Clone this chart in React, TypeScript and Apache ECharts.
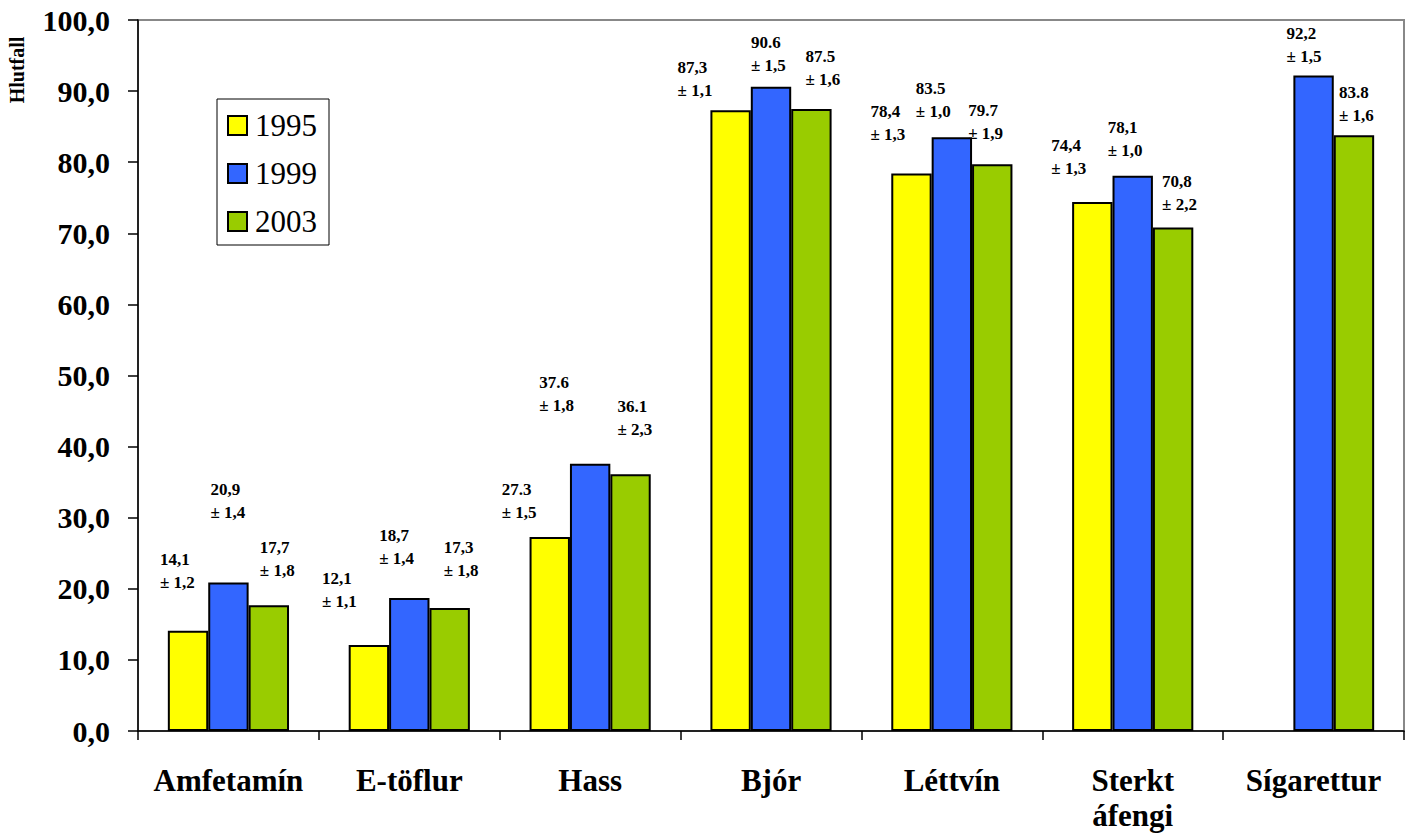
import React, { useEffect, useRef } from "react";
import * as echarts from "echarts";

const categories = ["Amfetamín", "E-töflur", "Hass", "Bjór", "Léttvín", "Sterkt\náfengi", "Sígarettur"];
const years = ["1995", "1999", "2003"];

const values1995: (number | null)[] = [14.1, 12.1, 27.3, 87.3, 78.4, 74.4, null];
const values1999: (number | null)[] = [20.9, 18.7, 37.6, 90.6, 83.5, 78.1, 92.2];
const values2003: (number | null)[] = [17.7, 17.3, 36.1, 87.5, 79.7, 70.8, 83.8];

const text1995 = ["14,1", "12,1", "27.3", "87,3", "78,4", "74,4", ""];
const text1999 = ["20,9", "18,7", "37.6", "90.6", "83.5", "78,1", "92,2"];
const text2003 = ["17,7", "17,3", "36.1", "87.5", "79.7", "70,8", "83.8"];

const err1995 = ["1,2", "1,1", "1,5", "1,1", "1,3", "1,3", ""];
const err1999 = ["1,4", "1,4", "1,8", "1,5", "1,0", "1,0", "1,5"];
const err2003 = ["1,8", "1,8", "2,3", "1,6", "1,9", "2,2", "1,6"];

const yTicks = { min: 0, max: 100, interval: 10 };

// label placement (pixel offsets of each label from its bar's top centre)
const off1995: [number, number][] = [[-28, -83], [-47, -78], [-48, -59], [-53, -54], [-41, -74], [-41, -68], [0, 0]];
const off1999: [number, number][] = [[-18, -104], [-30, -74], [-51, -93], [-20, -56], [-36, -60], [-25, -60], [-27, -53]];
const off2003: [number, number][] = [[-9, -69], [-6, -72], [-13, -79], [-6, -64], [-24, -65], [-11, -58], [-15, -54]];

const colors = ["#FFFF00", "#3366FF", "#99CC00"];
const FONT = "'Liberation Serif', 'Times New Roman', serif";

function buildSeries(name: string, vals: (number | null)[], texts: string[], errs: string[], offs: [number, number][], color: string) {
  return {
    name,
    type: "bar",
    barGap: "0%",
    barCategoryGap: "33%",
    itemStyle: { color, borderColor: "#000", borderWidth: 2 },
    data: vals.map((v, i) => ({
      value: v,
      label: { offset: offs[i] },
    })),
    label: {
      show: true,
      position: "top",
      distance: 0,
      align: "left",
      verticalAlign: "top",
      fontFamily: FONT,
      fontSize: 17,
      lineHeight: 23,
      fontWeight: "bold",
      color: "#000",
      formatter: (p: any) => (texts[p.dataIndex] ? texts[p.dataIndex] + "\n± " + errs[p.dataIndex] : ""),
    },
  };
}

export default function App() {
  const ref = useRef<HTMLDivElement>(null);
  useEffect(() => {
    if (!ref.current) return;
    const chart = echarts.init(ref.current, undefined, { renderer: "svg" });
    chart.setOption({
      animation: false,
      backgroundColor: "#fff",
      textStyle: { fontFamily: FONT },
      grid: {
        left: 138,
        right: 5,
        top: 20,
        bottom: 108,
        show: true,
        borderColor: "#888",
        borderWidth: 2,
        containLabel: false,
      },
      legend: {
        orient: "vertical",
        left: 217,
        top: 99,
        data: years,
        itemWidth: 19,
        itemHeight: 19,
        itemGap: 17,
        padding: [11, 12, 8, 10],
        backgroundColor: "#fff",
        borderColor: "#000",
        borderWidth: 1,
        borderRadius: 0,
        icon: "rect",
        itemStyle: { borderColor: "#000", borderWidth: 2 },
        textStyle: { fontFamily: FONT, fontSize: 31, lineHeight: 31, color: "#000", padding: [0, 0, 0, 3] },
      },
      xAxis: {
        type: "category",
        data: categories,
        axisLine: { lineStyle: { color: "#000", width: 1.5 } },
        axisTick: { show: true, alignWithLabel: false, length: 9, lineStyle: { color: "#000", width: 1.5 } },
        axisLabel: {
          interval: 0,
          margin: 32,
          fontFamily: FONT,
          fontSize: 31,
          lineHeight: 35,
          fontWeight: "bold",
          color: "#000",
        },
      },
      yAxis: {
        type: "value",
        min: yTicks.min,
        max: yTicks.max,
        interval: yTicks.interval,
        splitLine: { show: false },
        axisLine: { show: true, lineStyle: { color: "#000", width: 1.5 } },
        axisTick: { show: true, length: 10, lineStyle: { color: "#000", width: 1.5 } },
        axisLabel: {
          margin: 28,
          fontFamily: FONT,
          fontSize: 30,
          fontWeight: "bold",
          color: "#000",
          formatter: (v: number) => v.toFixed(1).replace(".", ","),
        },
      },
      graphic: [
        {
          type: "text",
          x: 17,
          y: 70,
          rotation: Math.PI / 2,
          style: {
            text: "Hlutfall",
            align: "center",
            verticalAlign: "middle",
            fontFamily: FONT,
            fontSize: 20,
            fontWeight: "bold",
            fill: "#000",
          },
        },
      ],
      series: [
        buildSeries(years[0], values1995, text1995, err1995, off1995, colors[0]),
        buildSeries(years[1], values1999, text1999, err1999, off1999, colors[1]),
        buildSeries(years[2], values2003, text2003, err2003, off2003, colors[2]),
      ],
    });
    return () => chart.dispose();
  }, []);
  return <div ref={ref} style={{ position: "absolute", left: 0, top: 0, width: 1409, height: 839 }} />;
}
